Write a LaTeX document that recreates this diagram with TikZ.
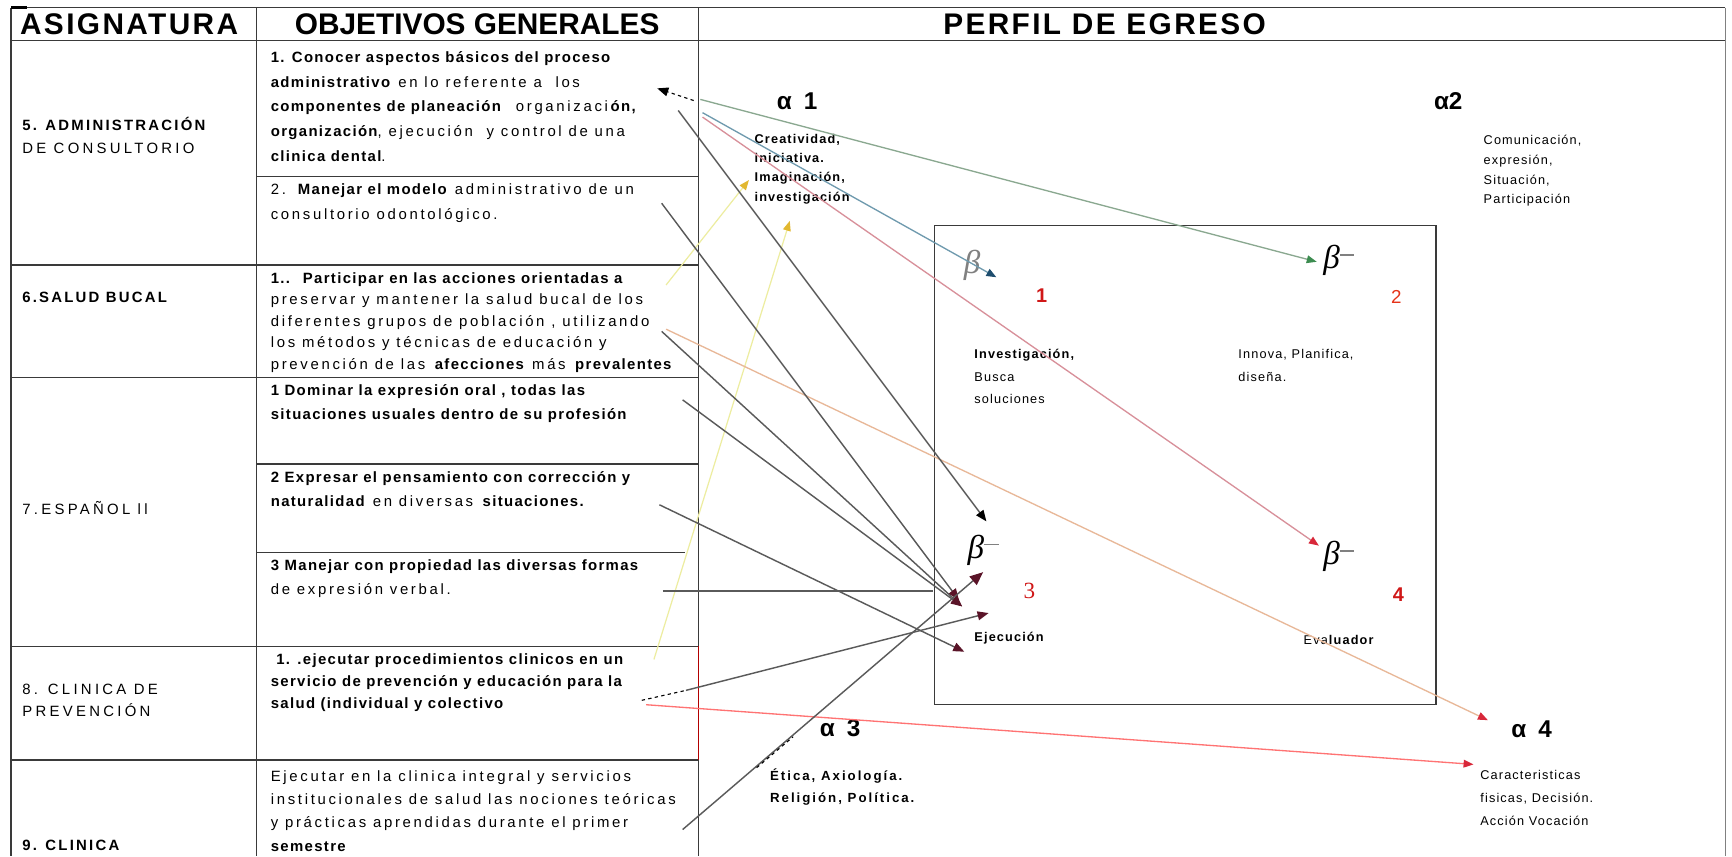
\documentclass[tikz,border=0pt]{standalone}
\usepackage{fontspec}
\setmainfont{Liberation Sans}
\newfontfamily\bodyfont{Liberation Sans}[UprightFeatures={LetterSpace=18},BoldFeatures={LetterSpace=9}]
\newfontfamily\colfont{Liberation Sans}[UprightFeatures={LetterSpace=22},BoldFeatures={LetterSpace=15}]
\newfontfamily\smfont{Liberation Sans}[LetterSpace=9]
\newfontfamily\hdfont{Liberation Sans}[LetterSpace=8]
\newfontfamily\serfont{Liberation Serif}
\usetikzlibrary{arrows.meta}
\definecolor{tline}{HTML}{3A3A3A}
\definecolor{dk}{HTML}{5A5A5A}
\definecolor{mar}{HTML}{5A1428}
\definecolor{grn}{HTML}{8AA890}
\definecolor{grnh}{HTML}{3C8C50}
\definecolor{tlc}{HTML}{6F9AAE}
\definecolor{tlh}{HTML}{1E4D6E}
\definecolor{pnk}{HTML}{D8909A}
\definecolor{redh}{HTML}{D8283A}
\definecolor{orn}{HTML}{E8B898}
\definecolor{yel}{HTML}{EDEDA0}
\definecolor{yelh}{HTML}{E2B830}
\definecolor{numred}{HTML}{D01818}
\tikzset{
  tbl/.style={line width=1.1pt, draw=tline},
  tx/.style={anchor=north west, inner sep=0pt, align=left},
  bd/.style={tx, font=\bodyfont\fontsize{13.5}{#1}\selectfont},
  cl/.style={tx, font=\colfont\fontsize{13.5}{#1}\selectfont},
  sm/.style={tx, font=\smfont\fontsize{11.5}{#1}\selectfont},
  hd/.style={inner sep=0pt, font=\bfseries\fontsize{27}{30}\selectfont},
  alph/.style={anchor=west, inner sep=0pt, font=\bfseries\fontsize{22}{24}\selectfont},
  bet/.style={inner sep=0pt, font=\serfont\itshape\fontsize{30}{32}\selectfont},
  num/.style={inner sep=0pt, text=numred, font=\bfseries\fontsize{18}{20}\selectfont},
  con/.style={line width=1.3pt, draw=dk, -{Triangle[length=10pt,width=8pt,color=mar]}},
  tip/.style={-{Triangle[length=9pt,width=7pt,color=#1]}},
}
\newcommand{\bdash}{\raisebox{12pt}{\color{gray}\rule{13pt}{1.3pt}}}
\newcommand{\agap}{\hspace{11pt}}
\begin{document}
\begin{tikzpicture}[x=1pt,y=-1pt]
\useasboundingbox (0,0) rectangle (1568,775);
\fill[white] (0,0) rectangle (1568,775);
% table frame
\draw[tbl] (10,7) -- (1562,7);
\draw[tbl] (10,37) -- (1562,37);
\draw[tbl] (10,7) -- (10,775);
\draw[tbl] (232,7) -- (232,775);
\draw[tbl] (632,7) -- (632,585);
\draw[line width=1.1pt, draw=red!70!black] (632,585) -- (632,688);
\draw[tbl] (632,688) -- (632,775);
\draw[line width=1.1pt, draw=gray] (1562,7) -- (1562,775);
\draw[line width=2.5pt] (10,7) -- (24,7);
\draw[tbl] (10,240) -- (632,240);
\draw[tbl] (10,342) -- (632,342);
\draw[tbl] (10,585) -- (632,585);
\draw[tbl] (10,688) -- (632,688);
\draw[tbl] (232,160) -- (632,160);
\draw[tbl] (232,420) -- (632,420);
\draw[tbl] (232,500) -- (620,500);
% headers
\node[hd, anchor=west, font=\hdfont\bfseries\fontsize{27}{30}\selectfont] (hA) at (18,22) {ASIGNATURA};
\node[hd] (hO) at (432,22) {OBJETIVOS GENERALES};
\node[hd, font=\hdfont\bfseries\fontsize{27}{30}\selectfont] (hP) at (1000,22) {PERFIL DE EGRESO};
% column 1
\node[cl=21] (a5) at (20,106) {\textbf{5. ADMINISTRACIÓN}\\DE CONSULTORIO};
\node[cl=21] (a6) at (20,264.5) {\textbf{6.SALUD BUCAL}};
\node[cl=21] (a7) at (20,454) {7.ESPAÑOL ll};
\node[cl=20] (a8) at (20,619) {8. CLINICA DE\\PREVENCIÓN};
\node[cl=21] (a9) at (20,760.5) {\textbf{9. CLINICA}};
% column 2
\node[bd=22.3] (o51) at (245,46.5) {\textbf{1. Conocer aspectos básicos del proceso}\\
\textbf{administrativo} en lo referente a \ los\\
\textbf{componentes de planeación} \ organizaci\textbf{ón,}\\
\textbf{organización}, ejecución \ y control de una\\
\textbf{clinica dental}.};
\node[bd=22] (o52) at (245,166.5) {2. \textbf{Manejar el modelo} administrativo de un\\consultorio odontológico.};
\node[bd=19.5] (o6) at (245,246.5) {\textbf{1.. \ Participar en las acciones orientadas a}\\
preservar y mantener la salud bucal de los\\
diferentes grupos de población , utilizando\\
los métodos y técnicas de educación y\\
prevención de las \textbf{afecciones} más \textbf{prevalentes}};
\node[bd=22] (o71) at (245,347.5) {\textbf{1 Dominar la expresión oral , todas las}\\\textbf{situaciones usuales dentro de su profesión}};
\node[bd=22] (o72) at (245,426.5) {\textbf{2 Expresar el pensamiento con corrección y}\\\textbf{naturalidad} en diversas \textbf{situaciones.}};
\node[bd=22] (o73) at (245,506.5) {\textbf{3 Manejar con propiedad las diversas formas}\\de expresión verbal.};
\node[bd=20] (o8) at (245,591.5) {\textbf{\ 1. .ejecutar procedimientos clinicos en un}\\
\textbf{servicio de prevención y educación para la}\\
\textbf{salud (individual y colectivo}};
\node[bd=21] (o9) at (245,697.5) {Ejecutar en la clinica integral y servicios\\
institucionales de salud las nociones teóricas\\
y prácticas aprendidas durante el primer\\
\textbf{semestre}};
% perfil
\draw[line width=1.3pt, draw=tline] (846,204) rectangle (1300,638);
\node[alph] (al1) at (703,92) {α\agap 1};
\node[alph] (al2) at (1298,92) {α2};
\node[alph] (al3) at (742,659) {α\agap 3};
\node[alph] (al4) at (1368,660) {α\agap 4};
\node[sm=17.5] (d1) at (683,121) {\textbf{Creatividad,}\\\textbf{iniciativa.}\\\textbf{Imaginación,}\\\textbf{investigación}};
\node[sm=18] (d2) at (1343,122) {Comunicación,\\expresión,\\Situación,\\Participación};
\node[sm=20, font=\colfont\fontsize{12}{20}\selectfont] (d3) at (697,696) {\textbf{Ética, Axiología.}\\\textbf{Religión, Política.}};
\node[sm=21] (d4) at (1340,697) {Caracteristicas\\fisicas, Decisión.\\Acción Vocación};
\node[sm=20.5] (e1) at (882,316) {\textbf{Investigación,}\\Busca\\soluciones};
\node[sm=20.5] (e2) at (1121,316) {Innova, Planifica,\\diseña.};
\node[sm=20] (e3) at (882,572) {\textbf{Ejecución}};
\node[sm=20] (e4) at (1180,575) {Eva\textbf{luador}};
\node[bet, text=gray] (be1) at (880,240) {β};
\node[bet] (be2) at (1212,236) {β\bdash};
\node[bet] (be3) at (890,498) {β\bdash};
\node[bet] (be4) at (1212,504) {β\bdash};
\node[num] (n1) at (943,268) {1};
\node[num, text=red!60!brown, font=\fontsize{17}{19}\selectfont] (n2) at (1264,269) {2};
\node[num, font=\serfont\fontsize{21}{23}\selectfont] (n3) at (932,535) {3};
\node[num] (n4) at (1266,538) {4};
% connector end points
\coordinate (s51a) at (634,90);
\coordinate (s51b) at (636,102);
\coordinate (s51c) at (636,106);
\coordinate (s51d) at (614,100);
\coordinate (s51e) at (628,91);
\coordinate (t51) at (595,80);
\coordinate (s52) at (599,184);
\coordinate (s6) at (599,300);
\coordinate (s6o) at (603,298);
\coordinate (s6y) at (603,258);
\coordinate (s71) at (618,362);
\coordinate (s72) at (597,457);
\coordinate (s73) at (600,535);
\coordinate (t73) at (845,535);
\coordinate (s8d) at (581,634);
\coordinate (s8) at (621,625);
\coordinate (s8r) at (585,638);
\coordinate (s8y) at (592,597);
\coordinate (s9) at (618,751);
\coordinate (m9a) at (685,695);
\coordinate (m9b) at (718,667);
\coordinate (b1tip) at (902,251);
\coordinate (b2tip) at (1192,237);
\coordinate (b4tip) at (1194,494);
\coordinate (btip) at (893,472);
\coordinate (A1) at (890,518);
\coordinate (A2) at (871,549);
\coordinate (A2b) at (868,543);
\coordinate (A3) at (895,555);
\coordinate (A4) at (873,590);
\coordinate (a4tip) at (1347,652);
\coordinate (cartip) at (1334,692);
\coordinate (y1tip) at (678,163);
\coordinate (y2tip) at (715,200);
% connectors
\draw[line width=1.1pt, draw=yel, tip=yelh] (s6y) -- (y1tip);
\draw[line width=1.1pt, draw=yel, tip=yelh] (s8y) -- (y2tip);
\draw[line width=1.2pt, draw=grn, tip=grnh] (s51a) -- (b2tip);
\draw[line width=1.2pt, draw=tlc, tip=tlh] (s51b) -- (b1tip);
\draw[line width=1.2pt, draw=pnk, tip=redh] (s51c) -- (b4tip);
\draw[line width=1.2pt, draw=orn, tip=redh] (s6o) -- (a4tip);
\draw[line width=1.2pt, draw=red!55, tip=redh] (s8r) -- (cartip);
\draw[con, -{Triangle[length=10pt,width=8pt,color=black]}] (s51d) -- (btip);
\draw[con] (s52) -- (A2b);
\draw[con] (s6) -- (A2);
\draw[con] (s71) -- (A2);
\draw[con] (s72) -- (A4);
\draw[line width=1.3pt, draw=dk] (s73) -- (t73);
\draw[con] (s8) -- (A3);
\draw[line width=1pt, dashed, draw=black] (s8d) -- (s8);
\draw[con, -{Triangle[length=12pt,width=10pt,color=mar]}] (s9) -- (A1);
\draw[line width=1pt, dashed, draw=black] (m9a) -- (m9b);
\draw[line width=1pt, dashed, draw=black, -{Triangle[length=10pt,width=8pt,color=black]}] (s51e) -- (t51);
\end{tikzpicture}
\end{document}
